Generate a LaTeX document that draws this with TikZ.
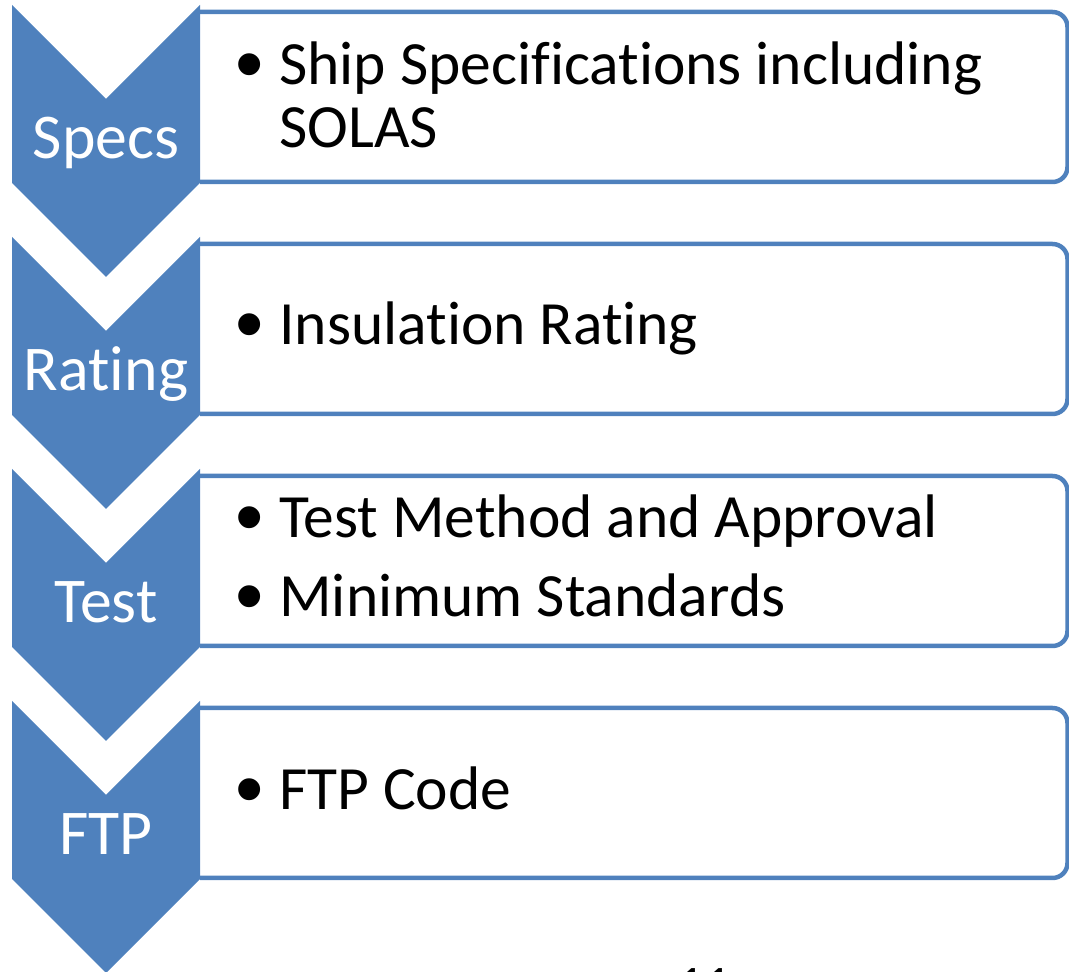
\documentclass[tikz,border=0pt]{standalone}
\usepackage{fontspec}
\setmainfont{Carlito}[Ligatures=NoCommon]
\newfontfamily\bulletfont{Liberation Sans}
\usetikzlibrary{positioning}
\definecolor{stepblue}{HTML}{4F81BD}

\newcommand{\bigtext}{\fontsize{35}{41}\selectfont}
\newcommand{\labeltext}{\fontsize{36.3}{42}\selectfont}

\tikzset{
  chevron/.style={fill=stepblue},
  steplabel/.style={text=white, anchor=base, inner sep=0pt, font=\labeltext},
  itembox/.style={draw=stepblue, line width=0.09cm, rounded corners=0.3cm},
  itemtext/.style={anchor=base west, inner sep=0pt, font=\bigtext},
  itemdot/.style={anchor=base, inner sep=0pt,
                  font=\bulletfont\fontsize{46}{50}\selectfont},
}

\begin{document}
\begin{tikzpicture}[x=0.02cm, y=-0.02cm]
  \useasboundingbox (0,0) rectangle (1069,972);

  % Rahmen fuer die Stichpunkte
  \foreach \t in {5,237,469,701} {
    \draw[itembox] (200,\t+7) -- (1067.5,\t+7) -- (1067.5,\t+177) -- (200,\t+177);
  }

  % Pfeile (Chevrons) mit Beschriftung
  \foreach \t/\name/\lab in {5/specs/Specs, 237/rating/Rating,
                              469/test/Test, 701/ftp/FTP} {
    \fill[chevron] (12,\t) -- (106,\t+94) -- (200,\t) -- (200,\t+178)
                   -- (106,\t+272) -- (12,\t+178) -- cycle;
    \node[steplabel] (\name) at (106,\t+154) {\lab};
  }

  % Stichpunkte
  \foreach \y/\name in {85/shipdot, 345/insudot, 538/methdot,
                        617/minidot, 810/codedot} {
    \node[itemdot] (\name) at (250,\y+7) {•};
  }
  \foreach \y/\name/\txt in {85/ship/Ship Specifications including,
                             148/solas/SOLAS,
                             345/insu/Insulation Rating,
                             538/meth/Test Method and Approval,
                             617/mini/Minimum Standards,
                             810/code/FTP Code} {
    \node[itemtext] (\name) at (279,\y) {\txt};
  }

  % Seitenzahl (unten abgeschnitten)
  \node[anchor=north, inner sep=0pt, font=\fontsize{30}{36}\selectfont]
    (pageno) at (704,968.5) {11};
\end{tikzpicture}
\end{document}
